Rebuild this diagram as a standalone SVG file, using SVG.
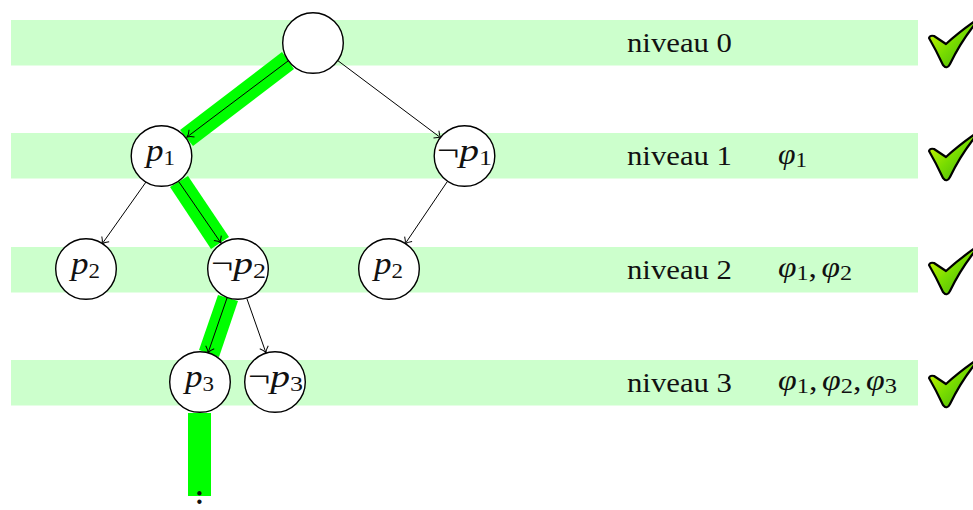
<svg xmlns="http://www.w3.org/2000/svg" xmlns:xlink="http://www.w3.org/1999/xlink" width="973" height="510" viewBox="0 0 973 510">
<style>
.band{fill:#ccffcc}
.hl{fill:#00ff00}
.edge{fill:none;stroke:#000;stroke-width:1;marker-end:url(#arr)}
.node{fill:#fff;stroke:#000;stroke-width:1.4}
text{font-family:"Liberation Serif","DejaVu Serif",serif;fill:#111}
.m{font-size:32px;font-style:italic}
.s{font-size:21px;font-style:normal}
.lab{font-size:27px}
.f{font-size:29px;font-style:italic}
.neg{font-style:normal}
</style>
<defs>
<marker id="arr" markerUnits="userSpaceOnUse" markerWidth="12" markerHeight="12" refX="9" refY="6" orient="auto">
<path d="M3 1.500Q6 5 9 6Q6 7 3 10.500" fill="none" stroke="#000" stroke-width="1"/>
</marker>
<linearGradient id="g" x1="0" y1="0" x2="1" y2="1">
<stop offset="0" stop-color="#dcf800"/>
<stop offset="0.5" stop-color="#78dc00"/>
<stop offset="1" stop-color="#40aa10"/>
</linearGradient>
<g id="check">
<path d="M929 38Q930 35 934 36L946 44Q958 33 975 21L975 24Q960 43 950 64Q947 70 943 65Q936 50 929 38Z" fill="url(#g)" stroke="#000" stroke-width="2.2" stroke-linejoin="round"/>
</g>
</defs>
<rect width="973" height="510" fill="#fff"/>
<g id="bands">
<rect class="band" x="11" y="20" width="907" height="45.5"/>
<rect class="band" x="11" y="133" width="907" height="45.5"/>
<rect class="band" x="11" y="247" width="907" height="45.5"/>
<rect class="band" x="11" y="360" width="907" height="45.5"/>
</g>
<g id="highlight">
<polygon class="hl" points="282,52 294,69 193,146 180,130"/>
<polygon class="hl" points="170,187 188,176 229,237 211,249"/>
<polygon class="hl" points="218,295 238,301 219,357 199,350"/>
<rect class="hl" x="188" y="413" width="23" height="83"/>
</g>
<g id="connectors">
<line class="edge" x1="288" y1="61" x2="187" y2="137"/>
<line class="edge" x1="337" y1="60" x2="441" y2="138"/>
<line class="edge" x1="146" y1="182" x2="102" y2="244"/>
<line class="edge" x1="179" y1="182" x2="221" y2="243"/>
<line class="edge" x1="447" y1="182" x2="405" y2="244"/>
<line class="edge" x1="227" y1="298" x2="208" y2="353"/>
<line class="edge" x1="247" y1="299" x2="266" y2="353"/>
</g>
<g id="n0"><circle class="node" cx="313" cy="43" r="30.3"/></g>
<g id="n1"><circle class="node" cx="161.500" cy="156" r="30.3"/><text class="m" x="146" y="161" textLength="29" lengthAdjust="spacingAndGlyphs">p<tspan class="s" dy="4">1</tspan></text></g>
<g id="n2"><circle class="node" cx="464.500" cy="156" r="30.3"/><text class="m" x="437" y="161" textLength="55" lengthAdjust="spacingAndGlyphs"><tspan class="neg">¬</tspan>p<tspan class="s" dy="4">1</tspan></text></g>
<g id="n3"><circle class="node" cx="86" cy="269" r="30.3"/><text class="m" x="71" y="274" textLength="29" lengthAdjust="spacingAndGlyphs">p<tspan class="s" dy="4">2</tspan></text></g>
<g id="n4"><circle class="node" cx="238" cy="269" r="30.3"/><text class="m" x="211" y="274" textLength="55" lengthAdjust="spacingAndGlyphs"><tspan class="neg">¬</tspan>p<tspan class="s" dy="4">2</tspan></text></g>
<g id="n5"><circle class="node" cx="389" cy="269" r="30.3"/><text class="m" x="374" y="274" textLength="29" lengthAdjust="spacingAndGlyphs">p<tspan class="s" dy="4">2</tspan></text></g>
<g id="n6"><circle class="node" cx="200" cy="382" r="30.3"/><text class="m" x="185" y="387" textLength="29" lengthAdjust="spacingAndGlyphs">p<tspan class="s" dy="4">3</tspan></text></g>
<g id="n7"><circle class="node" cx="275" cy="382" r="30.3"/><text class="m" x="248" y="387" textLength="55" lengthAdjust="spacingAndGlyphs"><tspan class="neg">¬</tspan>p<tspan class="s" dy="4">3</tspan></text></g>
<g id="dots"><text x="199.500" y="504" text-anchor="middle" style="font-size:27px;font-weight:bold">:</text></g>
<g id="labels">
<text class="lab" x="627" y="52" textLength="105" lengthAdjust="spacingAndGlyphs">niveau 0</text>
<text class="lab" x="627" y="165" textLength="105" lengthAdjust="spacingAndGlyphs">niveau 1</text>
<text class="lab" x="627" y="279" textLength="105" lengthAdjust="spacingAndGlyphs">niveau 2</text>
<text class="lab" x="627" y="392" textLength="105" lengthAdjust="spacingAndGlyphs">niveau 3</text>
<text class="f" x="778" y="164" textLength="29" lengthAdjust="spacingAndGlyphs">φ<tspan class="s" dy="3">1</tspan></text>
<text class="f" x="778" y="277" textLength="74" lengthAdjust="spacingAndGlyphs">φ<tspan class="s" dy="3">1</tspan><tspan class="neg" dy="-3">,</tspan><tspan dx="4">φ</tspan><tspan class="s" dy="3">2</tspan></text>
<text class="f" x="778" y="390" textLength="119" lengthAdjust="spacingAndGlyphs">φ<tspan class="s" dy="3">1</tspan><tspan class="neg" dy="-3">,</tspan><tspan dx="4">φ</tspan><tspan class="s" dy="3">2</tspan><tspan class="neg" dy="-3">,</tspan><tspan dx="4">φ</tspan><tspan class="s" dy="3">3</tspan></text>
</g>
<g id="checks">
<use xlink:href="#check" href="#check"/>
<use xlink:href="#check" href="#check" y="113"/>
<use xlink:href="#check" href="#check" y="227"/>
<use xlink:href="#check" href="#check" y="340"/>
</g>
</svg>
